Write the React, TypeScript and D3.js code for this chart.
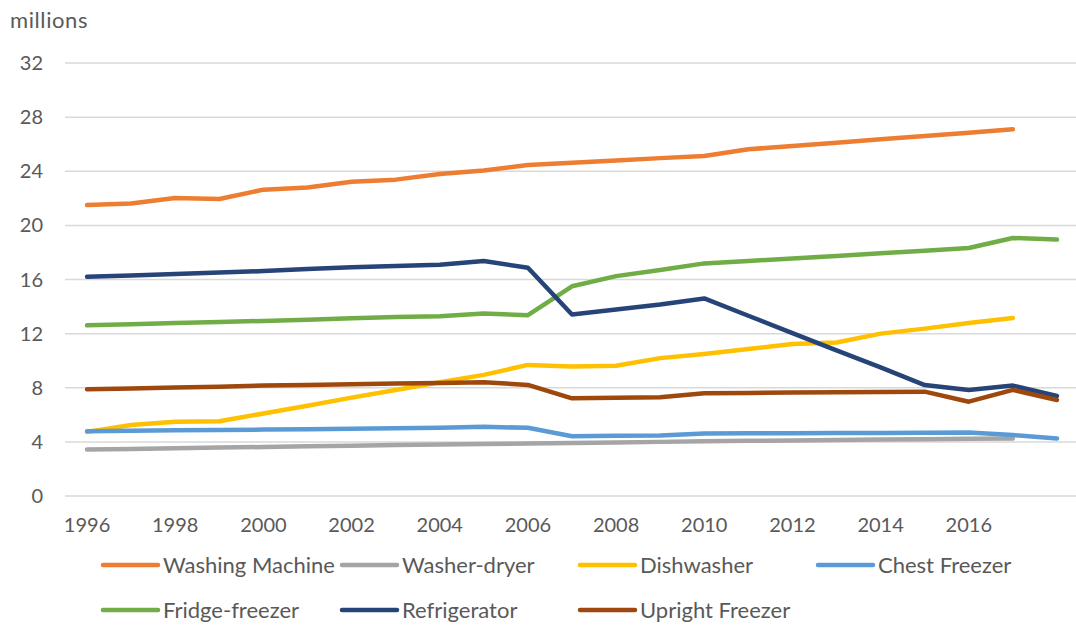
import React from "react";
import * as d3 from "d3";

// Data
const years = d3.range(1996, 2019);
const yTicks = [0, 4, 8, 12, 16, 20, 24, 28, 32];
const xTickLabels = [1996, 1998, 2000, 2002, 2004, 2006, 2008, 2010, 2012, 2014, 2016];

const washingMachine = [21.5, 21.62, 22.02, 21.95, 22.64, 22.8, 23.23, 23.38, 23.8, 24.05, 24.46, 24.63, 24.8, 24.97, 25.13, 25.62, 25.87, 26.11, 26.36, 26.61, 26.85, 27.1, null];
const washerDryer = [3.43, 3.48, 3.53, 3.58, 3.62, 3.67, 3.72, 3.76, 3.8, 3.84, 3.88, 3.92, 3.96, 4.0, 4.04, 4.08, 4.11, 4.14, 4.17, 4.2, 4.23, 4.25, null];
const dishwasher = [4.74, 5.24, 5.49, 5.53, 6.1, 6.67, 7.27, 7.84, 8.4, 8.95, 9.69, 9.57, 9.62, 10.19, 10.49, 10.86, 11.23, 11.35, 12.0, 12.37, 12.79, 13.16, null];
const chestFreezer = [4.79, 4.82, 4.85, 4.88, 4.91, 4.94, 4.97, 5.0, 5.04, 5.11, 5.04, 4.42, 4.45, 4.47, 4.62, 4.63, 4.64, 4.65, 4.66, 4.67, 4.7, 4.5, 4.25];
const fridgeFreezer = [12.61, 12.69, 12.79, 12.86, 12.94, 13.03, 13.13, 13.23, 13.28, 13.48, 13.36, 15.5, 16.25, 16.7, 17.19, 17.37, 17.56, 17.74, 17.94, 18.13, 18.33, 19.07, 18.95];
const refrigerator = [16.2, 16.3, 16.4, 16.52, 16.62, 16.77, 16.9, 17.0, 17.09, 17.37, 16.87, 13.41, 13.78, 14.15, 14.6, 13.32, 12.04, 10.76, 9.5, 8.2, 7.84, 8.16, 7.39];
const uprightFreezer = [7.89, 7.94, 8.01, 8.08, 8.16, 8.21, 8.26, 8.31, 8.36, 8.4, 8.21, 7.22, 7.27, 7.29, 7.59, 7.62, 7.64, 7.66, 7.68, 7.71, 6.97, 7.84, 7.09];

const seriesNames = ["Washing Machine", "Washer-dryer", "Dishwasher", "Chest Freezer", "Fridge-freezer", "Refrigerator", "Upright Freezer"];
const seriesValues = [washingMachine, washerDryer, dishwasher, chestFreezer, fridgeFreezer, refrigerator, uprightFreezer];
const seriesColors = ["#ED7D31", "#A5A5A5", "#FFC000", "#5B9BD5", "#70AD47", "#264478", "#9E480E"];

const width = 1076;
const height = 626;
const font = "Lato, 'Open Sans', sans-serif";
const textColor = "#595959";

const App = () => {
  // Scales
  const xScale = d3.scalePoint<number>().domain(years).range([65, 1079]).padding(0.5);
  const yScale = d3.scaleLinear().domain([0, 32]).range([496, 63]);

  const lineGenerator = d3
    .line<number | null>()
    .defined((d) => d !== null)
    .x((d, i) => xScale(years[i]) as number)
    .y((d) => yScale(d as number));

  // Legend layout: 4 columns, 2 rows
  const legendCols = [103, 342, 580, 818];
  const legendRows = [565, 610];

  return (
    <svg width={width} height={height} style={{ position: "absolute", left: 0, top: 0 }}>
      <rect width={width} height={height} fill="#ffffff" />
      <text x={10} y={28} fontFamily={font} fontSize={22} letterSpacing={0.6} fill={textColor}>
        millions
      </text>

      {/* Grid + y labels */}
      {yTicks.map((t) => (
        <g key={t}>
          <line x1={65} x2={1079} y1={yScale(t)} y2={yScale(t)} stroke="#d9d9d9" strokeWidth={1.5} />
          <text x={43} y={yScale(t)} dy="0.35em" textAnchor="end" fontFamily={font} fontSize={20} fill={textColor}>
            {t}
          </text>
        </g>
      ))}

      {/* x labels */}
      {xTickLabels.map((y) => (
        <text key={y} x={xScale(y)} y={532} textAnchor="middle" fontFamily={font} fontSize={20} fill={textColor}>
          {y}
        </text>
      ))}

      {/* Lines */}
      {seriesValues.map((vals, i) => (
        <path
          key={seriesNames[i]}
          d={lineGenerator(vals) || ""}
          fill="none"
          stroke={seriesColors[i]}
          strokeWidth={4.5}
          strokeLinejoin="round"
          strokeLinecap="round"
        />
      ))}

      {/* Legend */}
      {seriesNames.map((name, i) => {
        const lx = legendCols[i % 4];
        const ly = legendRows[Math.floor(i / 4)];
        return (
          <g key={name}>
            <line x1={lx} x2={lx + 55} y1={ly} y2={ly} stroke={seriesColors[i]} strokeWidth={4.5} strokeLinecap="round" />
            <text x={lx + 60} y={ly} dy="0.35em" fontFamily={font} fontSize={22} fill={textColor}>
              {name}
            </text>
          </g>
        );
      })}
    </svg>
  );
};

export default App;
